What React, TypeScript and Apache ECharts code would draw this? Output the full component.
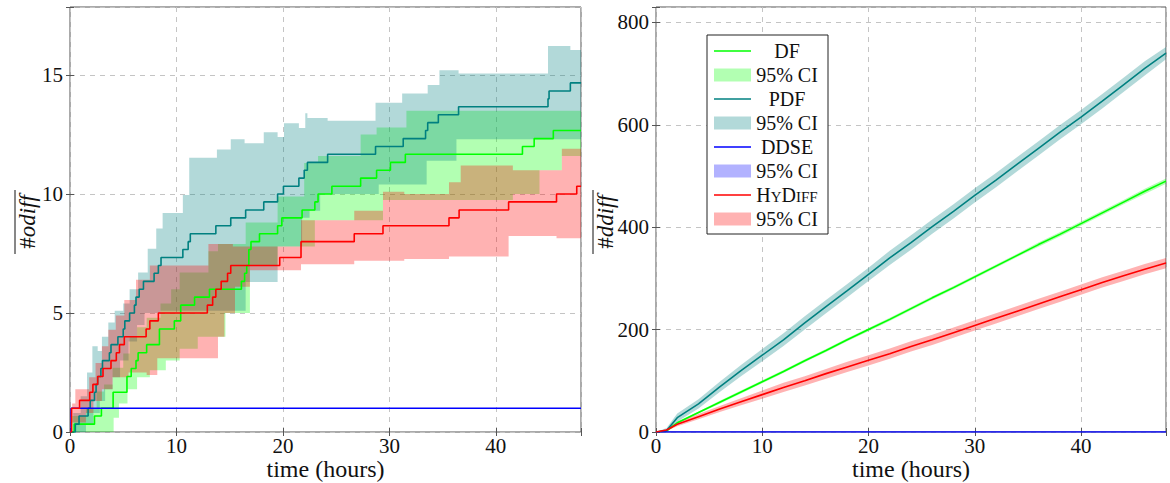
import React, { useEffect, useRef } from "react";
import * as echarts from "echarts";

type Pt = [number, number];

// ================= LEFT CHART: mean #odiff over time (step functions) =================
const dfMean: Pt[] = [[0,0],[0.4,0.33],[2.3,0.67],[2.95,1.0],[4.05,1.67],[5.35,2.33],[5.75,2.67],[6.2,3.0],[6.4,3.33],[7.2,3.67],[8.4,4.33],[9.8,4.67],[10.4,5.33],[11.7,5.67],[13.1,6.0],[16.1,6.33],[16.4,6.67],[16.6,7.0],[16.8,7.67],[17.0,8.0],[17.8,8.33],[19.5,8.67],[19.9,9.0],[21.8,9.33],[23.0,9.67],[23.3,10.0],[24.6,10.33],[27.3,10.67],[28.8,11.0],[30.1,11.33],[31.5,11.67],[42.5,12.0],[43.6,12.33],[45.4,12.67],[48,12.67]];
const dfLow: Pt[] = [[0,0],[4.1,0.6],[4.6,1.2],[5.4,1.8],[6.3,2.3],[7.5,2.6],[9.0,3.0],[10.3,3.5],[12.0,4.0],[14.6,5.0],[16.9,7.0],[19.5,7.8],[23.0,8.9],[29.4,9.75],[41.6,10.0],[44.1,11.0],[46.2,11.6],[48,11.6]];
const dfHigh: Pt[] = [[0,0],[0.2,0.67],[1.5,1.0],[2.5,1.7],[3.2,2.0],[4.0,2.7],[5.0,3.3],[5.6,4.0],[6.3,4.4],[7.2,4.8],[8.5,5.4],[9.5,6.0],[10.3,6.7],[13.0,7.6],[13.9,7.9],[16.5,8.8],[19.5,9.9],[22.0,11.3],[23.3,11.6],[27.3,12.5],[28.8,12.8],[31.6,13.5],[48,13.6]];

const pdfMean: Pt[] = [[0,0],[0.5,0.33],[0.85,0.67],[1.7,1.0],[1.9,1.33],[2.3,1.67],[2.45,2.0],[2.6,2.33],[2.9,2.67],[3.05,3.0],[3.7,3.33],[3.85,3.67],[4.5,4.0],[5.0,4.33],[5.15,4.67],[5.6,5.0],[6.05,5.33],[6.2,5.67],[6.5,6.0],[6.9,6.33],[7.9,6.67],[8.3,7.0],[8.55,7.33],[10.6,7.67],[11.1,8.0],[11.3,8.33],[13.7,8.67],[15.1,9.0],[16.5,9.33],[18.2,9.67],[19.5,10.0],[20.05,10.33],[21.5,10.67],[22.0,11.0],[22.3,11.33],[24.2,11.67],[28.7,12.0],[31.3,12.33],[33.4,12.67],[33.6,13.0],[34.6,13.33],[36.5,13.67],[44.9,14.0],[45.0,14.33],[47.0,14.67],[48,14.67]];
const pdfLow: Pt[] = [[0,0],[1.5,0.3],[2.2,0.8],[2.8,1.3],[3.3,1.8],[4.0,2.3],[4.7,3.0],[5.5,3.8],[6.3,4.5],[7.0,5.0],[8.5,5.1],[16.5,6.3],[19.5,7.8],[21.8,9.0],[22.5,9.3],[23.5,10.0],[29.0,10.4],[33.5,11.4],[36.3,12.3],[48,12.3]];
const pdfHigh: Pt[] = [[0,0],[0.3,0.8],[1.0,1.5],[1.6,2.5],[2.1,3.6],[2.6,3.4],[3.0,4.0],[3.6,4.6],[4.2,5.1],[5.0,5.4],[5.6,6.0],[6.4,6.7],[7.3,7.7],[8.1,8.55],[8.7,9.2],[10.6,9.96],[11.2,11.53],[13.8,11.87],[15.1,12.3],[16.4,12.13],[18.2,12.6],[19.5,12.4],[20.1,12.97],[21.5,12.77],[22.1,13.4],[22.3,13.2],[24.2,13.08],[28.7,13.84],[31.2,14.23],[33.6,14.58],[34.7,15.2],[36.5,15.07],[44.9,16.22],[47.0,16.05],[48,16.05]];

const ddseMean: Pt[] = [[0,0],[0.1,1],[48,1]];
const ddseLow: Pt[] = [[0,0],[0.1,1],[48,1]];
const ddseHigh: Pt[] = [[0,0],[0.1,1],[48,1]];

const hdMean: Pt[] = [[0,0],[0.15,1.0],[0.9,1.33],[1.85,1.67],[2.15,2.0],[2.6,2.33],[3.1,2.67],[3.85,3.0],[4.35,3.33],[4.65,3.67],[5.1,4.0],[7.15,4.33],[7.5,4.67],[8.3,5.0],[12.9,5.33],[13.4,5.67],[13.7,6.0],[14.2,6.33],[14.8,6.67],[15.1,7.0],[19.7,7.33],[21.7,8.0],[26.7,8.33],[29.4,8.67],[35.6,9.0],[36.55,9.33],[41.2,9.67],[45.7,10.0],[47.6,10.33],[48,10.33]];
const hdLow: Pt[] = [[0,0],[0.2,0.4],[1.5,0.8],[2.2,1.3],[3.0,1.8],[4.0,2.3],[5.5,2.5],[7.2,2.4],[8.2,3.1],[13.9,4.0],[14.5,5.0],[15.5,6.1],[16.9,6.8],[21.7,7.05],[26.7,7.2],[31.4,7.27],[35.6,7.37],[41.2,8.24],[45.7,8.14],[48,8.14]];
const hdHigh: Pt[] = [[0,0],[0.2,1.2],[0.5,1.8],[1.8,2.3],[2.4,2.9],[3.0,3.6],[3.6,4.3],[4.3,4.9],[5.1,5.55],[6.2,6.4],[7.5,7.0],[13.0,7.9],[15.3,7.8],[21.7,8.9],[26.7,9.3],[29.4,10.1],[31.4,10.0],[35.6,10.5],[36.7,11.2],[41.6,11.0],[46.2,11.9],[48,11.9]];

// ================= RIGHT CHART: mean #ddiff over time =================
const hoursR = [0,1,2,4,6,8,10,12,14,16,18,20,22,24,26,28,30,32,34,36,38,40,42,44,46,48];
const dfR = [0,2,18,38,58,78,98,118,139,159,180,200,220,241,262,282,303,324,345,366,386,407,428,449,470,490];
const dfRLow = [0,0,16,36,55,75,95,115,136,156,177,197,217,238,259,279,300,321,342,362,382,403,424,445,465,485];
const dfRHigh = [0,4,20,40,61,81,101,121,142,162,183,203,223,244,265,285,306,327,348,370,390,411,432,453,475,495];
const pdfR = [0,3,28,55,88,120,150,180,213,245,276,308,340,370,401,431,462,492,523,554,585,615,646,678,710,740];
const pdfRLow = [0,0,20,46,78,109,138,168,200,232,263,295,326,356,387,417,448,478,509,540,571,601,632,664,696,728];
const pdfRHigh = [0,8,36,64,98,131,162,193,226,258,289,321,354,384,415,445,476,506,537,568,599,629,660,692,724,752];
const ddseR = [0,0,0,0,0,0,0,0,0,0,0,0,0,0,0,0,0,0,0,0,0,0,0,0,0,0];
const hdR = [0,4,15,30,45,59,73,87,100,114,127,140,153,167,180,194,208,222,236,250,264,278,292,305,318,330];
const hdRLow = [0,2,11,25,39,52,65,78,91,104,117,130,143,157,170,184,198,212,226,240,254,268,282,295,308,320];
const hdRHigh = [0,6,19,35,51,66,81,96,109,123,137,150,163,177,190,204,218,232,246,260,274,288,302,315,328,340];

const xTicksInterval = 10;
const leftYMax = 17.86;
const leftYInterval = 5;
const rightYMax = 830;
const rightYInterval = 200;

const legendItems = [
  { label: "DF", kind: "line", key: "df" },
  { label: "95% CI", kind: "fill", key: "df" },
  { label: "PDF", kind: "line", key: "pdf" },
  { label: "95% CI", kind: "fill", key: "pdf" },
  { label: "DDSE", kind: "line", key: "ddse" },
  { label: "95% CI", kind: "fill", key: "ddse" },
  { label: "HyDiff", kind: "line", key: "hd" },
  { label: "95% CI", kind: "fill", key: "hd" },
];

const LINE: Record<string, string> = { df: "#00ff00", pdf: "#008080", ddse: "#0000ff", hd: "#ff0000" };
const FILL: Record<string, string> = {
  df: "rgba(0,255,0,0.3)",
  pdf: "rgba(0,128,128,0.3)",
  ddse: "rgba(0,0,255,0.3)",
  hd: "rgba(255,0,0,0.3)",
};

const FONT = "Liberation Serif";

const zip = (xs: number[], ys: number[]): Pt[] => xs.map((x, i) => [x, ys[i]]);

const stepify = (arr: Pt[]): Pt[] => {
  const out: Pt[] = [];
  for (let i = 0; i < arr.length; i++) {
    out.push(arr[i]);
    if (i < arr.length - 1) out.push([arr[i + 1][0], arr[i][1]]);
  }
  return out;
};

function lineSeries(name: string, data: Pt[], key: string, gi: number, step: boolean) {
  return {
    name,
    type: "line",
    xAxisIndex: gi * 2,
    yAxisIndex: gi * 2,
    data,
    step: step ? "end" : false,
    showSymbol: false,
    symbol: "none",
    silent: true,
    lineStyle: { color: LINE[key], width: 1.6 },
    itemStyle: { color: LINE[key] },
  };
}

function bandSeries(name: string, lo: Pt[], hi: Pt[], key: string, gi: number, step: boolean) {
  return {
    name,
    type: "custom",
    coordinateSystem: "cartesian2d",
    xAxisIndex: gi * 2,
    yAxisIndex: gi * 2,
    data: [[0, 0]],
    encode: { x: 0, y: 1 },
    silent: true,
    clip: true,
    renderItem: (_params: any, api: any) => {
      const up = step ? stepify(hi) : hi;
      const dn = step ? stepify(lo) : lo;
      const points = [
        ...up.map((p) => api.coord(p)),
        ...dn.slice().reverse().map((p) => api.coord(p)),
      ];
      return { type: "polygon", shape: { points }, style: { fill: FILL[key], stroke: null } };
    },
  };
}

const labelText = (size: number) => ({ color: "#111", fontFamily: FONT, fontSize: size });

function xAxes(gi: number) {
  return [
    {
      type: "value",
      gridIndex: gi,
      position: "bottom",
      min: 0,
      max: 48,
      interval: xTicksInterval,
      axisLine: { show: false },
      axisTick: { show: true, inside: true, length: 4, lineStyle: { color: "#555" } },
      axisLabel: {
        ...labelText(21),
        margin: 3,
        formatter: (v: number) => (v % xTicksInterval === 0 ? String(v) : ""),
      },
      splitLine: { show: true, lineStyle: { color: "#c4c4c4", type: [5, 5], width: 1 } },
      name: "time (hours)",
      nameLocation: "middle",
      nameGap: 25,
      nameMoveOverlap: false,
      nameTextStyle: labelText(24),
    },
    {
      type: "value",
      gridIndex: gi,
      position: "top",
      min: 0,
      max: 48,
      interval: xTicksInterval,
      axisLine: { show: false },
      axisTick: { show: true, inside: true, length: 4, lineStyle: { color: "#555" } },
      axisLabel: { show: false },
      splitLine: { show: false },
    },
  ];
}

function yAxes(gi: number, max: number, iv: number) {
  return [
    {
      type: "value",
      gridIndex: gi,
      position: "left",
      min: 0,
      max,
      interval: iv,
      axisLine: { show: false },
      axisTick: { show: true, inside: true, length: 4, lineStyle: { color: "#555" } },
      axisLabel: {
        ...labelText(21),
        margin: 7,
        formatter: (v: number) => (v % iv === 0 ? String(v) : ""),
      },
      splitLine: { show: true, lineStyle: { color: "#c4c4c4", type: [5, 5], width: 1 } },
    },
    {
      type: "value",
      gridIndex: gi,
      position: "right",
      min: 0,
      max,
      interval: iv,
      axisLine: { show: false },
      axisTick: { show: true, inside: true, length: 4, lineStyle: { color: "#555" } },
      axisLabel: { show: false },
      splitLine: { show: false },
    },
  ];
}

function yLabel(x: number, cy: number, word: string, len: number) {
  return [
    {
      type: "text",
      x: x,
      y: cy,
      rotation: Math.PI / 2,
      z: 50,
      style: {
        text: "{n|#}{i|" + word + "}",
        align: "center",
        verticalAlign: "middle",
        rich: {
          n: { fontFamily: FONT, fontSize: 23, fill: "#111" },
          i: { fontFamily: FONT, fontSize: 23, fontStyle: "italic", fill: "#111" },
        },
      },
    },
    {
      type: "line",
      z: 50,
      shape: { x1: x - 12, y1: cy - len / 2, x2: x - 12, y2: cy + len / 2 },
      style: { stroke: "#111", lineWidth: 1 },
    },
  ];
}

function legendGraphic() {
  const x0 = 707;
  const y0 = 35;
  const els: any[] = [
    {
      type: "rect",
      z: 100,
      shape: { x: x0, y: y0, width: 121, height: 199 },
      style: { fill: "#fff", stroke: "#222", lineWidth: 1 },
    },
  ];
  legendItems.forEach((it, i) => {
    const y = 51 + 24 * i;
    if (it.kind === "line") {
      els.push({
        type: "line",
        z: 101,
        shape: { x1: 714, y1: y, x2: 751, y2: y },
        style: { stroke: LINE[it.key], lineWidth: 1.6 },
      });
    } else {
      els.push({
        type: "rect",
        z: 101,
        shape: { x: 714, y: y - 6.5, width: 37, height: 13 },
        style: { fill: FILL[it.key] },
      });
    }
    const isHy = it.label === "HyDiff";
    els.push({
      type: "text",
      z: 101,
      x: 787,
      y: y,
      style: {
        text: isHy ? "{a|H}{b|Y}{a|D}{b|IFF}" : "{a|" + it.label + "}",
        align: "center",
        verticalAlign: "middle",
        rich: {
          a: { fontFamily: FONT, fontSize: 20, fill: "#111", verticalAlign: "bottom" },
          b: { fontFamily: FONT, fontSize: 15, fill: "#111", verticalAlign: "bottom", padding: [0, 0, 1, 0] },
        },
      },
    });
  });
  return els;
}

export default function App() {
  const ref = useRef<HTMLDivElement>(null);

  useEffect(() => {
    if (!ref.current) return;
    const chart = echarts.init(ref.current, undefined, { renderer: "svg" });

    const gridBase = {
      top: 7,
      height: 425,
      show: true,
      borderColor: "#555",
      borderWidth: 1,
      backgroundColor: "transparent",
      containLabel: false,
      outerBoundsMode: "none",
    };

    const option: any = {
      animation: false,
      backgroundColor: "#fff",
      textStyle: { fontFamily: FONT },
      grid: [
        { ...gridBase, left: 70, width: 511 },
        { ...gridBase, left: 656, width: 510 },
      ],
      xAxis: [...xAxes(0), ...xAxes(1)],
      yAxis: [...yAxes(0, leftYMax, leftYInterval), ...yAxes(1, rightYMax, rightYInterval)],
      series: [
        lineSeries("DF", dfMean, "df", 0, true),
        bandSeries("DF 95% CI", dfLow, dfHigh, "df", 0, true),
        lineSeries("PDF", pdfMean, "pdf", 0, true),
        bandSeries("PDF 95% CI", pdfLow, pdfHigh, "pdf", 0, true),
        lineSeries("DDSE", ddseMean, "ddse", 0, true),
        bandSeries("DDSE 95% CI", ddseLow, ddseHigh, "ddse", 0, true),
        lineSeries("HyDiff", hdMean, "hd", 0, true),
        bandSeries("HyDiff 95% CI", hdLow, hdHigh, "hd", 0, true),

        lineSeries("DF ", zip(hoursR, dfR), "df", 1, false),
        bandSeries("DF 95% CI ", zip(hoursR, dfRLow), zip(hoursR, dfRHigh), "df", 1, false),
        lineSeries("PDF ", zip(hoursR, pdfR), "pdf", 1, false),
        bandSeries("PDF 95% CI ", zip(hoursR, pdfRLow), zip(hoursR, pdfRHigh), "pdf", 1, false),
        lineSeries("DDSE ", zip(hoursR, ddseR), "ddse", 1, false),
        bandSeries("DDSE 95% CI ", zip(hoursR, ddseR), zip(hoursR, ddseR), "ddse", 1, false),
        lineSeries("HyDiff ", zip(hoursR, hdR), "hd", 1, false),
        bandSeries("HyDiff 95% CI ", zip(hoursR, hdRLow), zip(hoursR, hdRHigh), "hd", 1, false),
      ],
      graphic: [
        ...yLabel(27, 222, "odiff", 64),
        ...yLabel(605, 222, "ddiff", 64),
        ...legendGraphic(),
      ],
    };

    chart.setOption(option);
    return () => chart.dispose();
  }, []);

  return (
    <div
      ref={ref}
      style={{ position: "fixed", left: 0, top: 0, width: 1170, height: 483, background: "#fff" }}
    />
  );
}
